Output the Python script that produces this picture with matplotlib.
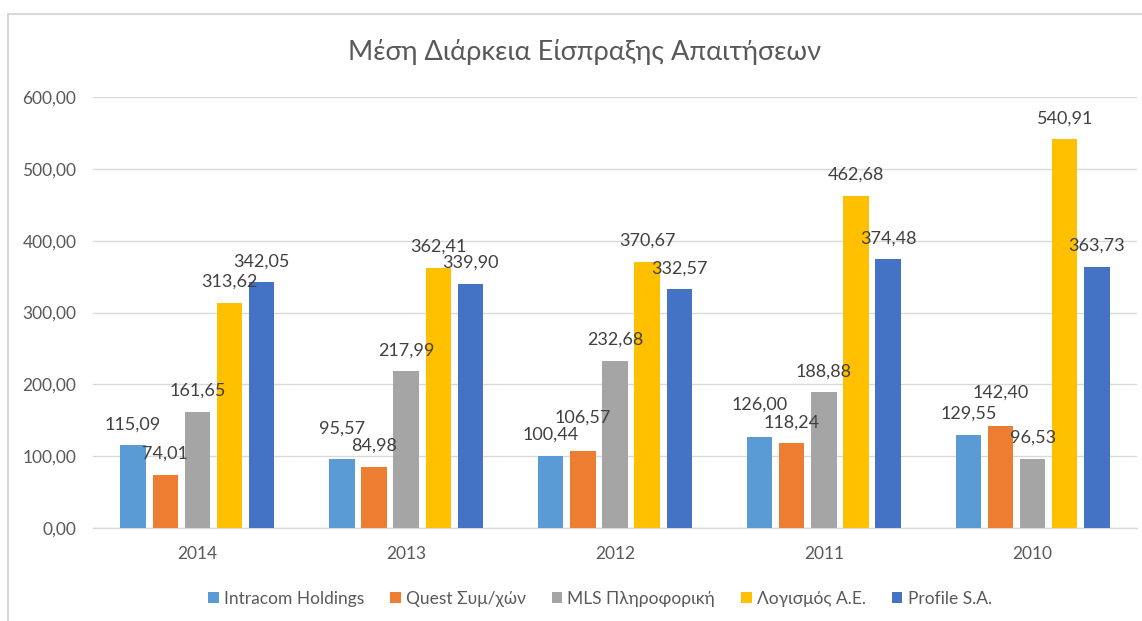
import matplotlib
matplotlib.use("Agg")
import matplotlib.pyplot as plt
from matplotlib.patches import Rectangle
import numpy as np

plt.rcParams['font.family'] = ['Lato', 'DejaVu Sans']

title = "Μέση Διάρκεια Είσπραξης Απαιτήσεων"
years = ["2014", "2013", "2012", "2011", "2010"]
series_names = ["Intracom Holdings", "Quest Συμ/χών", "MLS Πληροφορική", "Λογισμός Α.Ε.", "Profile S.A."]
intracom = [115.09, 95.57, 100.44, 126.00, 129.55]
quest = [74.01, 84.98, 106.57, 118.24, 142.40]
mls = [161.65, 217.99, 232.68, 188.88, 96.53]
logismos = [313.62, 362.41, 370.67, 462.68, 540.91]
profile = [342.05, 339.90, 332.57, 374.48, 363.73]
yticks = [0, 100, 200, 300, 400, 500, 600]

series = [intracom, quest, mls, logismos, profile]
colors = ["#5B9BD5", "#ED7D31", "#A5A5A5", "#FFC000", "#4472C4"]

# extra upward nudges (points) for labels that the original moved to avoid overlap:
# (series index, year index) -> extra offset
label_nudge = {(0, 1): 7, (1, 2): 9, (0, 3): 9, (1, 4): 9}

fig = plt.figure(figsize=(11.42, 6.21), dpi=100)
# chart border
fig.patches.append(Rectangle((8/1142, -0.1), 1.2, 1 - 13.5/621 + 0.1, transform=fig.transFigure,
                             fill=False, edgecolor="#D9D9D9", linewidth=1.5))

ax = fig.add_axes([93/1142, 1 - 528/621, (1137 - 93)/1142, (528 - 97)/621])
x = np.arange(len(years))
pitch = 0.154
width = 0.122
text_color = "#404040"
for i, (vals, name, c) in enumerate(zip(series, series_names, colors)):
    pos = x + (i - 2) * pitch
    ax.bar(pos, vals, width=width, color=c, label=name, zorder=3)
    for j, (px, v) in enumerate(zip(pos, vals)):
        dy = 15 + label_nudge.get((i, j), 0)
        ax.annotate(f"{v:.2f}".replace(".", ","), (px, v), xytext=(0, dy), textcoords="offset points",
                    ha="center", va="center", fontsize=13, color=text_color, zorder=4)

ax.set_xlim(-0.5, len(years) - 0.5)
ax.set_ylim(0, 600)
ax.set_yticks(yticks)
ax.set_yticklabels([f"{t:.2f}".replace(".", ",") for t in yticks], fontsize=12.5, color="#595959")
ax.set_xticks(x)
ax.set_xticklabels(years, fontsize=12.5, color="#595959")
ax.tick_params(axis="both", length=0)
ax.tick_params(axis="y", pad=12)
ax.tick_params(axis="x", pad=13)
ax.grid(axis="y", color="#D9D9D9", linewidth=1, zorder=0)
for s in ["top", "right", "left"]:
    ax.spines[s].set_visible(False)
ax.spines["bottom"].set_color("#D9D9D9")
ax.spines["bottom"].set_linewidth(1)

fig.text(584/1142, 1 - 52/621, title, ha="center", va="center", fontsize=19.5, color="#595959")

leg = fig.legend(loc="center", bbox_to_anchor=(600/1142, 1 - 599/621), ncol=5, frameon=False,
                 fontsize=12.5, handlelength=0.6, handleheight=0.6, handletextpad=0.3, columnspacing=1.5)
for t in leg.get_texts():
    t.set_color("#595959")

fig.savefig("out.png", dpi=100)
